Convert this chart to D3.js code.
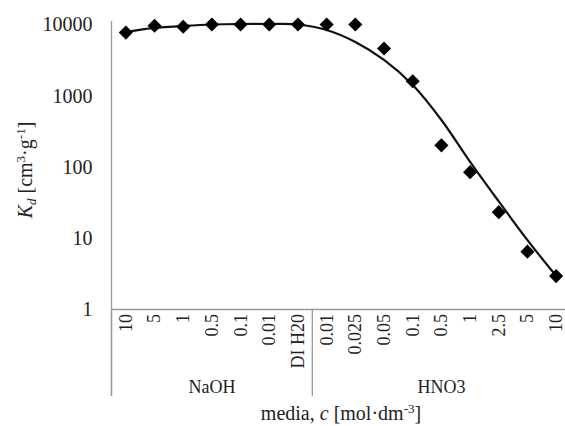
<!DOCTYPE html>
<html>
<head>
<meta charset="utf-8">
<script src="https://cdn.jsdelivr.net/npm/d3@7"></script>
<style>
  html, body { margin: 0; padding: 0; background: #fff; }
  svg { display: block; font-family: "Liberation Serif", "Times New Roman", serif; }
</style>
</head>
<body>
<svg id="chart" width="565" height="426"></svg>
<script>
// ---- data ----
const categories = ["10","5","1","0.5","0.1","0.01","DI H20","0.01","0.025","0.05","0.1","0.5","1","2.5","5","10"];
const groups = [
  { name: "NaOH", count: 7 },
  { name: "HNO3", count: 9 }
];
const kdMeasured = [7700, 9600, 9300, 10000, 10000, 10000, 10000, 10000, 10000, 4600, 1590, 200, 84, 23, 6.4, 2.9];
const kdFit = [7850, 8940, 9530, 10000, 10160, 10160, 10000, 8370, 5680, 3170, 1410, 454, 117, 32.5, 9.3, 2.91];
const yTicks = [1, 10, 100, 1000, 10000];

(function () {
// ---- layout ----
const svg = d3.select("#chart");
const pLeft = 111.5, pRight = 570.5, pTop = 24.5, pBottom = 309, groupBottom = 396;
const axisColor = "#9a9a9a";

const x = d3.scaleBand().domain(d3.range(categories.length)).range([pLeft, pRight]).padding(0);
const y = d3.scaleLog().domain([1, 10000]).range([pBottom, pTop]);

// y axis
const yAxis = svg.append("g").attr("transform", `translate(${pLeft},0)`)
  .call(d3.axisLeft(y).tickValues(yTicks).tickFormat(d3.format("d")).tickSize(0).tickPadding(19));
yAxis.select(".domain").remove();
yAxis.selectAll("text").attr("font-size", 20).attr("fill", "#222").attr("font-family", "Liberation Serif, serif");

svg.append("line").attr("x1", pLeft).attr("x2", pLeft).attr("y1", 21).attr("y2", groupBottom)
  .attr("stroke", axisColor).attr("stroke-width", 1.3);

// x axis
const xAxis = svg.append("g").attr("transform", `translate(0,${pBottom})`)
  .call(d3.axisBottom(x).tickFormat(i => categories[i]).tickSize(0));
xAxis.select(".domain").attr("stroke", axisColor).attr("stroke-width", 1.3);
xAxis.selectAll("text")
  .attr("transform", "rotate(-90)")
  .attr("x", -5).attr("y", 0).attr("dy", "0.33em")
  .attr("text-anchor", "end")
  .attr("font-size", 18).attr("fill", "#222").attr("font-family", "Liberation Serif, serif");

// group separators and labels
let idx = 0;
const bounds = [idx];
groups.forEach(g => { idx += g.count; bounds.push(idx); });
bounds.forEach(b => {
  const bx = b < categories.length ? x(b) : pRight;
  svg.append("line").attr("x1", bx).attr("x2", bx).attr("y1", pBottom).attr("y2", groupBottom)
    .attr("stroke", axisColor).attr("stroke-width", 1.3);
});
groups.forEach((g, gi) => {
  const x0 = x(bounds[gi]);
  const x1 = bounds[gi + 1] < categories.length ? x(bounds[gi + 1]) : pRight;
  svg.append("text").attr("x", (x0 + x1) / 2).attr("y", 393)
    .attr("text-anchor", "middle").attr("font-size", 18).attr("fill", "#222")
    .text(g.name);
});

// fit curve
const line = d3.line()
  .x((d, i) => x(i) + x.bandwidth() / 2)
  .y(d => y(d))
  .curve(d3.curveCatmullRom.alpha(0.5));
svg.append("path").datum(kdFit).attr("d", line)
  .attr("fill", "none").attr("stroke", "#111").attr("stroke-width", 2.2);

// measured points (diamonds)
const diamond = d3.symbol(d3.symbolSquare, 100);
svg.append("g").selectAll("path").data(kdMeasured).join("path")
  .attr("d", diamond)
  .attr("transform", (d, i) => `translate(${x(i) + x.bandwidth() / 2},${y(d)}) rotate(45)`)
  .attr("fill", "#000");

// axis titles
const yt = svg.append("text").attr("transform", "translate(32,170) rotate(-90)")
  .attr("text-anchor", "middle").attr("font-size", 20).attr("fill", "#222");
yt.append("tspan").attr("font-style", "italic").text("K");
yt.append("tspan").attr("font-style", "italic").attr("font-size", 13).attr("dy", 4).text("d");
yt.append("tspan").attr("dy", -4).text(" [cm");
yt.append("tspan").attr("font-size", 13).attr("dy", -7).text("3");
yt.append("tspan").attr("dy", 7).text("·g");
yt.append("tspan").attr("font-size", 13).attr("dy", -7).text("-1");
yt.append("tspan").attr("dy", 7).text("]");

const xt = svg.append("text").attr("x", (pLeft + pRight) / 2).attr("y", 420)
  .attr("text-anchor", "middle").attr("font-size", 20).attr("fill", "#222");
xt.append("tspan").text("media, ");
xt.append("tspan").attr("font-style", "italic").text("c");
xt.append("tspan").text(" [mol·dm");
xt.append("tspan").attr("font-size", 13).attr("dy", -7).text("-3");
xt.append("tspan").attr("dy", 7).text("]");
})();
</script>
</body>
</html>
